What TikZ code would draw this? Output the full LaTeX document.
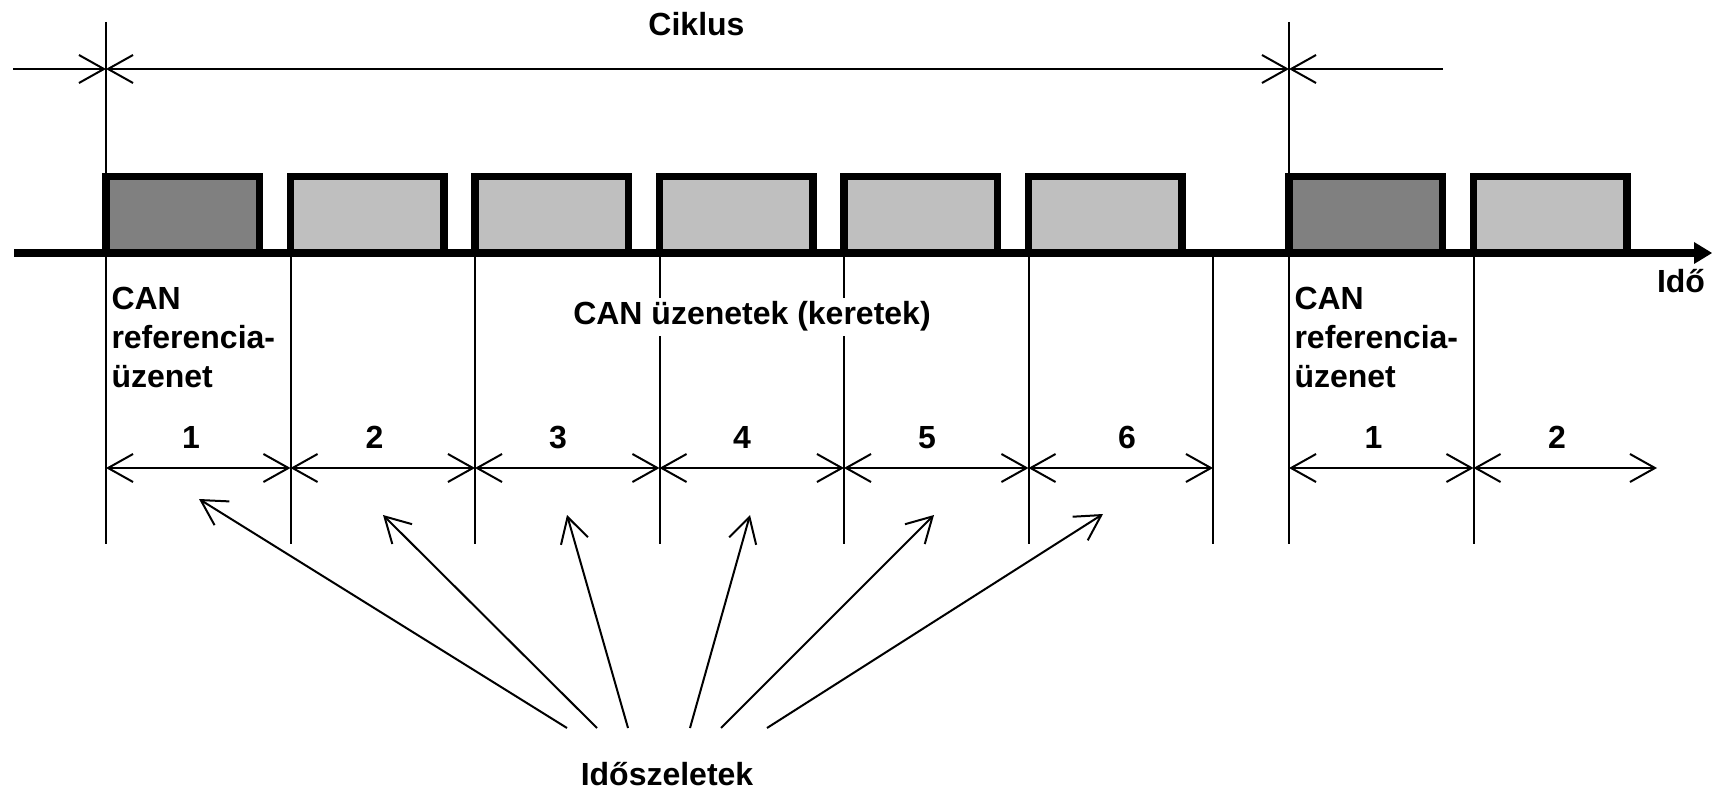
\documentclass[tikz,border=0pt]{standalone}
\usepackage{fontspec}
\setmainfont{Liberation Sans}
\usetikzlibrary{arrows.meta}
\begin{document}
\begin{tikzpicture}[x=1pt,y=-1pt,
  thinline/.style={line width=2pt},
  lbl/.style={font=\bfseries\fontsize{32}{39}\selectfont, inner sep=0pt, outer sep=0pt},
  sb/.tip={Straight Barb[length=25pt,width=28pt]},
  frame/.style={draw=black, line width=7.5pt, minimum width=153.5pt, minimum height=76.3pt, inner sep=0pt, outer sep=0pt},
  refframe/.style={frame, fill=black!50},
  msgframe/.style={frame, fill=black!25},
]
\useasboundingbox (0,0) rectangle (1712,791);

% slot boundaries
\coordinate (s0) at (106,253);
\coordinate (s1) at (290.5,253);
\coordinate (s2) at (475,253);
\coordinate (s3) at (659.5,253);
\coordinate (s4) at (844,253);
\coordinate (s5) at (1028.5,253);
\coordinate (s6) at (1213,253);
\coordinate (r0) at (1289,253);
\coordinate (r1) at (1473.5,253);
\coordinate (r2) at (1658,253);

% vertical lines
\draw[thinline] (106,22) -- (106,544);
\draw[thinline] (1289,22) -- (1289,544);
\foreach \x in {290.5,475,659.5,844,1028.5,1213,1473.5}
  \draw[thinline] (\x,253) -- (\x,544);

% cycle dimension line
\coordinate (tl) at (13,69);
\coordinate (ta) at (106,69);
\coordinate (tb) at (1289,69);
\coordinate (tr) at (1443,69);
\draw[thinline,-sb] (tl) -- (ta);
\draw[thinline,sb-sb] (ta) -- (tb);
\draw[thinline,sb-] (tb) -- (tr);
\node[lbl, anchor=base] (ciklus) at (696.5,35.7) {Ciklus};

% frames
\node[refframe] (f1) at (182.75,214.85) {};
\node[msgframe] (f2) at (367.25,214.85) {};
\node[msgframe] (f3) at (551.75,214.85) {};
\node[msgframe] (f4) at (736.25,214.85) {};
\node[msgframe] (f5) at (920.75,214.85) {};
\node[msgframe] (f6) at (1105.25,214.85) {};
\node[refframe] (f7) at (1365.75,214.85) {};
\node[msgframe] (f8) at (1550.25,214.85) {};

% time axis
\coordinate (ax0) at (14,253);
\coordinate (ax1) at (1712,253);
\draw[line width=8pt, -{Triangle[length=18pt,width=22pt,line width=0pt]}] (ax0) -- (ax1);
\node[lbl, anchor=base west] (ido) at (1657,293) {Idő};

% labels
\node[lbl, anchor=north west, align=left] (ref1) at (111.5,287.1) {CAN\\referencia-\\üzenet};
\node[lbl, anchor=north west, align=left] (ref2) at (1294.5,287.1) {CAN\\referencia-\\üzenet};
\node[lbl, anchor=base, fill=white, inner sep=4pt] (canmsg) at (752,325) {CAN üzenetek (keretek)};

% slot dimension arrows
\foreach \a/\b in {106/290.5, 290.5/475, 475/659.5, 659.5/844, 844/1028.5, 1028.5/1213, 1289/1473.5, 1473.5/1657}
  \draw[thinline, sb-sb] (\a,468) -- (\b,468);

% slot numbers
\node[lbl, anchor=base] (n1) at (191,448) {1};
\node[lbl, anchor=base] (n2) at (374.5,448) {2};
\node[lbl, anchor=base] (n3) at (558,448) {3};
\node[lbl, anchor=base] (n4) at (742,448) {4};
\node[lbl, anchor=base] (n5) at (927,448) {5};
\node[lbl, anchor=base] (n6) at (1127,448) {6};
\node[lbl, anchor=base] (n7) at (1373.5,448) {1};
\node[lbl, anchor=base] (n8) at (1557,448) {2};

% time slice arrows
\node[lbl, anchor=base] (slices) at (667,785) {Időszeletek};
\coordinate (b1) at (567,728);
\coordinate (b2) at (597,728);
\coordinate (b3) at (628,728);
\coordinate (b4) at (690,728);
\coordinate (b5) at (721,728);
\coordinate (b6) at (767,728);
\coordinate (a1) at (199,499);
\coordinate (a2) at (383,515);
\coordinate (a3) at (567,515);
\coordinate (a4) at (750,515);
\coordinate (a5) at (934,515);
\coordinate (a6) at (1103,514);
\foreach \i in {1,...,6}
  \draw[thinline, -sb] (b\i) -- (a\i);
\end{tikzpicture}
\end{document}
